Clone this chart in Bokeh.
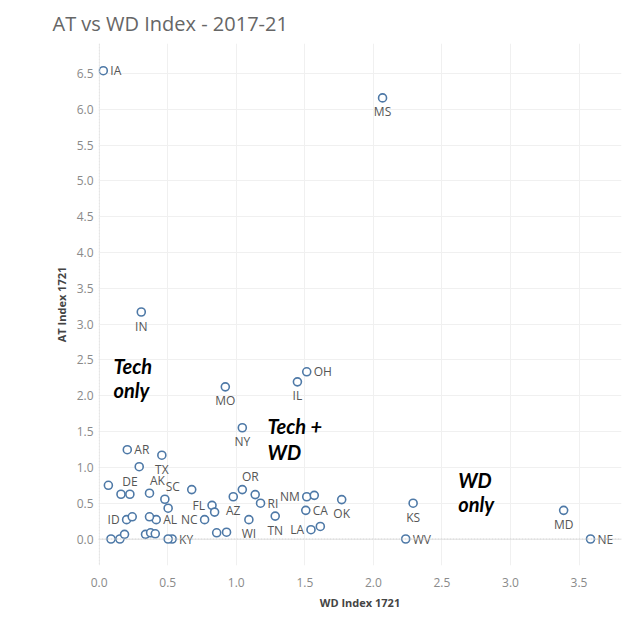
from bokeh.plotting import figure
from bokeh.embed import file_html
from bokeh.resources import INLINE
from bokeh.models import ColumnDataSource, Range1d, FixedTicker, NumeralTickFormatter, Span
from bokeh.core.properties import value

# datos (WD Index 1721 vs AT Index 1721)
states = ["IA", "MS", "IN", "MO", "IL", "OH", "NY", "AR", "TX", "DE",
          "AK", "SC", "AL", "ID", "NC", "KY", "FL", "AZ", "OR", "RI",
          "WI", "TN", "NM", "CA", "LA", "OK", "KS", "WV", "MD", "NE",
          "", "", "", "", "", "", "", "", "", "",
          "", "", "", "", "", "", "", "", "", ""]
wd_index = [0.03, 2.067, 0.307, 0.92, 1.446, 1.514, 1.044, 0.205, 0.457, 0.224,
            0.367, 0.479, 0.416, 0.20, 0.769, 0.532, 0.823, 0.978, 1.044, 1.177,
            1.092, 1.284, 1.514, 1.507, 1.545, 1.769, 2.29, 2.236, 3.388, 3.584,
            0.067, 0.292, 0.159, 0.503, 0.675, 0.241, 0.367, 0.086, 0.151, 0.185,
            0.338, 0.375, 0.409, 0.503, 0.842, 0.857, 0.929, 1.138, 1.569, 1.613]
at_index = [6.54, 6.16, 3.17, 2.125, 2.195, 2.335, 1.554, 1.247, 1.17, 0.625,
            0.64, 0.555, 0.27, 0.27, 0.27, 0.0, 0.47, 0.59, 0.69, 0.50,
            0.27, 0.32, 0.59, 0.40, 0.13, 0.55, 0.50, 0.0, 0.40, 0.0,
            0.75, 1.01, 0.625, 0.43, 0.69, 0.31, 0.31, 0.0, 0.0, 0.065,
            0.065, 0.087, 0.073, 0.0, 0.376, 0.087, 0.095, 0.62, 0.61, 0.175]

# donde va la etiqueta de cada punto (r=derecha, l=izquierda, b=abajo, a=arriba)
label_pos = ["r", "b", "b", "b", "b", "r", "b", "r", "b", "a",
             "ar", "ar", "r", "l", "l", "r", "l", "b", "ar", "r",
             "b", "b", "l", "r", "l", "b", "b", "r", "b", "r"] + ["b"] * 20

x_ticks = [0.0, 0.5, 1.0, 1.5, 2.0, 2.5, 3.0, 3.5]
y_ticks = [0.0, 0.5, 1.0, 1.5, 2.0, 2.5, 3.0, 3.5, 4.0, 4.5, 5.0, 5.5, 6.0, 6.5]

# notas de cuadrante
notes = ["Tech", "only", "Tech +", "WD", "WD", "only"]
notes_x = [0.104, 0.104, 1.228, 1.228, 2.619, 2.619]
notes_y = [2.42, 2.085, 1.58, 1.21, 0.825, 0.49]

FONT = "Open Sans"
BLUE = "#4e79a7"

offsets = {"r": (7, 0, "left", "middle"),
           "l": (-7, 0, "right", "middle"),
           "b": (0, 14, "center", "middle"),
           "a": (0, -13, "center", "middle"),
           "ar": (8, -13, "center", "middle")}

source = ColumnDataSource(dict(
    x=wd_index, y=at_index, name=states,
    dx=[offsets[k][0] for k in label_pos],
    dy=[offsets[k][1] for k in label_pos],
    align=[offsets[k][2] for k in label_pos],
))

p = figure(width=630, height=620,
           x_range=Range1d(-0.005, 3.81), y_range=Range1d(-0.37, 6.92),
           title="AT vs WD Index - 2017-21",
           output_backend="svg", toolbar_location=None,
           min_border_left=98, min_border_right=9,
           min_border_top=42, min_border_bottom=55)

p.outline_line_color = None
p.background_fill_color = "white"

# titulo
p.title.text_font = FONT
p.title.text_font_size = "20px"
p.title.text_font_style = "normal"
p.title.text_color = "#666666"
p.title.align = "left"
p.title.offset = -46
p.title.standoff = 14

# ejes
for ax in (p.xaxis, p.yaxis):
    ax.axis_line_color = None
    ax.major_tick_line_color = None
    ax.minor_tick_line_color = None
    ax.major_label_text_font = FONT
    ax.major_label_text_font_size = "12px"
    ax.major_label_text_color = "#8a8a8a"
    ax.formatter = NumeralTickFormatter(format="0.0")
    ax.axis_label_text_font = FONT
    ax.axis_label_text_font_size = "11px"
    ax.axis_label_text_font_style = "bold"
    ax.axis_label_text_color = "#444444"

p.xaxis.ticker = FixedTicker(ticks=x_ticks)
p.yaxis.ticker = FixedTicker(ticks=y_ticks)
p.xaxis.axis_label = "WD Index 1721"
p.yaxis.axis_label = "AT Index 1721"
p.xaxis.major_label_standoff = 6
p.yaxis.major_tick_out = 0
p.yaxis.major_tick_in = 0
p.yaxis.major_label_standoff = 5
p.xaxis.axis_label_standoff = 5
p.yaxis.axis_label_standoff = 5

p.xgrid.ticker = FixedTicker(ticks=x_ticks)
p.ygrid.ticker = FixedTicker(ticks=y_ticks)
p.grid.grid_line_color = "#f0f0f0"
p.grid.grid_line_width = 1

# lineas de cero
p.add_layout(Span(location=0, dimension="width", line_color="#d0d0d0", line_dash="2 1", line_width=1))
p.add_layout(Span(location=0, dimension="height", line_color="#e0e0e0", line_dash="2 1", line_width=1))

# puntos
p.scatter(x="x", y="y", source=source, marker="circle", size=8,
          fill_color="white", line_color=BLUE, line_width=1.6)

# etiquetas de estados
p.text(x="x", y="y", text="name", source=source,
       x_offset="dx", y_offset="dy", text_align="align", text_baseline="middle",
       text_font=value(FONT), text_font_size="12px", text_color="#555555")

# notas en negrita cursiva
p.text(x=notes_x, y=notes_y, text=notes,
       text_font=value("Lato"), text_font_size="20px", text_font_style="bold italic",
       text_color="black", text_align="left", text_baseline="alphabetic")

open("out.html", "w").write(file_html(p, INLINE))
